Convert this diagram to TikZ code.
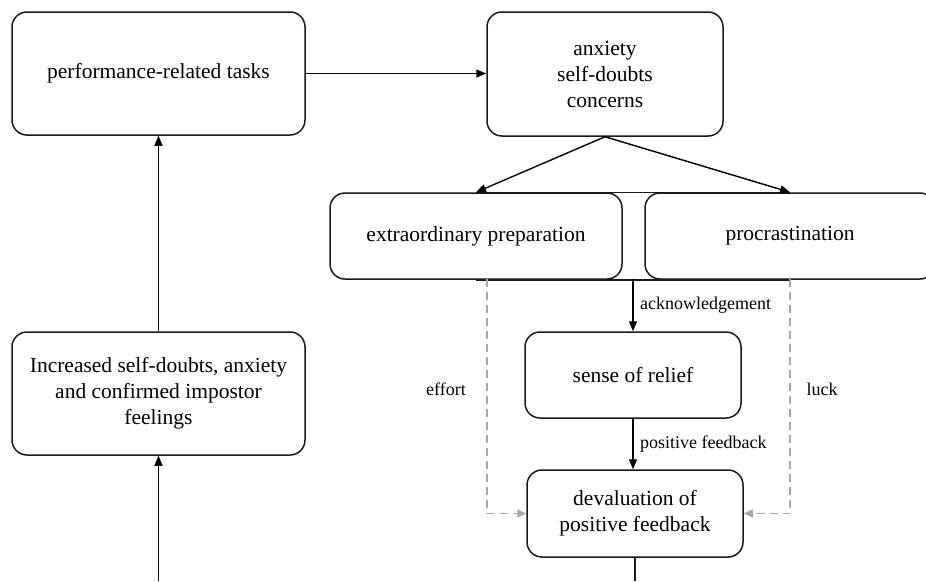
\documentclass[tikz,border=0pt]{standalone}
\usepackage{fontspec}
\setmainfont{Liberation Serif}
\usetikzlibrary{arrows.meta}
\begin{document}
\begin{tikzpicture}[x=1pt,y=-1pt,
  box/.style={draw=black!90, line width=1.5pt, rounded corners=15pt, align=center, font=\fontsize{21.5}{26}\selectfont, inner sep=0pt},
  conn/.style={draw=black, line width=1.4pt, -{Triangle[length=10pt,width=8pt]}},
  plainline/.style={draw=black!90, line width=1.5pt},
  dashconn/.style={draw=black!35, line width=1.4pt, dash pattern=on 8pt off 5pt, -{Triangle[length=9pt,width=8pt]}},
  lbl/.style={font=\fontsize{18}{22}\selectfont, inner sep=0pt}]
\useasboundingbox (0,0) rectangle (926,581);

\node[box, minimum width=293pt, minimum height=123pt] (perf) at (158.5,73.5) {performance-related tasks};
\node[box, minimum width=236pt, minimum height=124pt] (anx) at (605,74) {anxiety\\self-doubts\\concerns};
\node[box, minimum width=292pt, minimum height=86pt] (ep) at (476,236) {extraordinary preparation};
\node[box, minimum width=290pt, minimum height=86pt] (pr) at (790,236) {procrastination};
\node[box, minimum width=216pt, minimum height=86pt] (rel) at (633,375) {sense of relief};
\node[box, minimum width=216pt, minimum height=87pt] (dev) at (635,513.5) {devaluation of\\positive feedback};
\node[box, minimum width=293pt, minimum height=123pt] (inc) at (158.5,393.5) {Increased self-doubts, anxiety\\and confirmed impostor\\feelings};

\draw[plainline] (ep.north) -- (pr.north);
\draw[plainline] (ep.south) -- (pr.south);

\draw[conn] (perf.east) -- (perf.east -| anx.west);
\draw[conn] (anx.south) -- (ep.north);
\draw[conn] (anx.south) -- (pr.north);

\coordinate (ack) at (633,279);
\draw[conn] (ack) -- (rel.north);
\draw[conn] (rel.south) -- (rel.south |- dev.north);

\coordinate (efftop) at (487,279);
\coordinate (lucktop) at (790,279);
\draw[dashconn] (efftop) |- (dev.west);
\draw[dashconn] (lucktop) |- (dev.east);

\coordinate (bot) at (635,581);
\draw[plainline] (dev.south) -- (bot);
\coordinate (botl) at (158.5,581);
\draw[conn] (botl) -- (inc.south);
\draw[conn] (inc.north) -- (perf.south);

\node[lbl, anchor=west] (lack) at (640,305) {acknowledgement};
\node[lbl, anchor=west] (lpf) at (640,444) {positive feedback};
\node[lbl] (leff) at (446,389) {effort};
\node[lbl] (lluck) at (822,389) {luck};
\end{tikzpicture}
\end{document}
